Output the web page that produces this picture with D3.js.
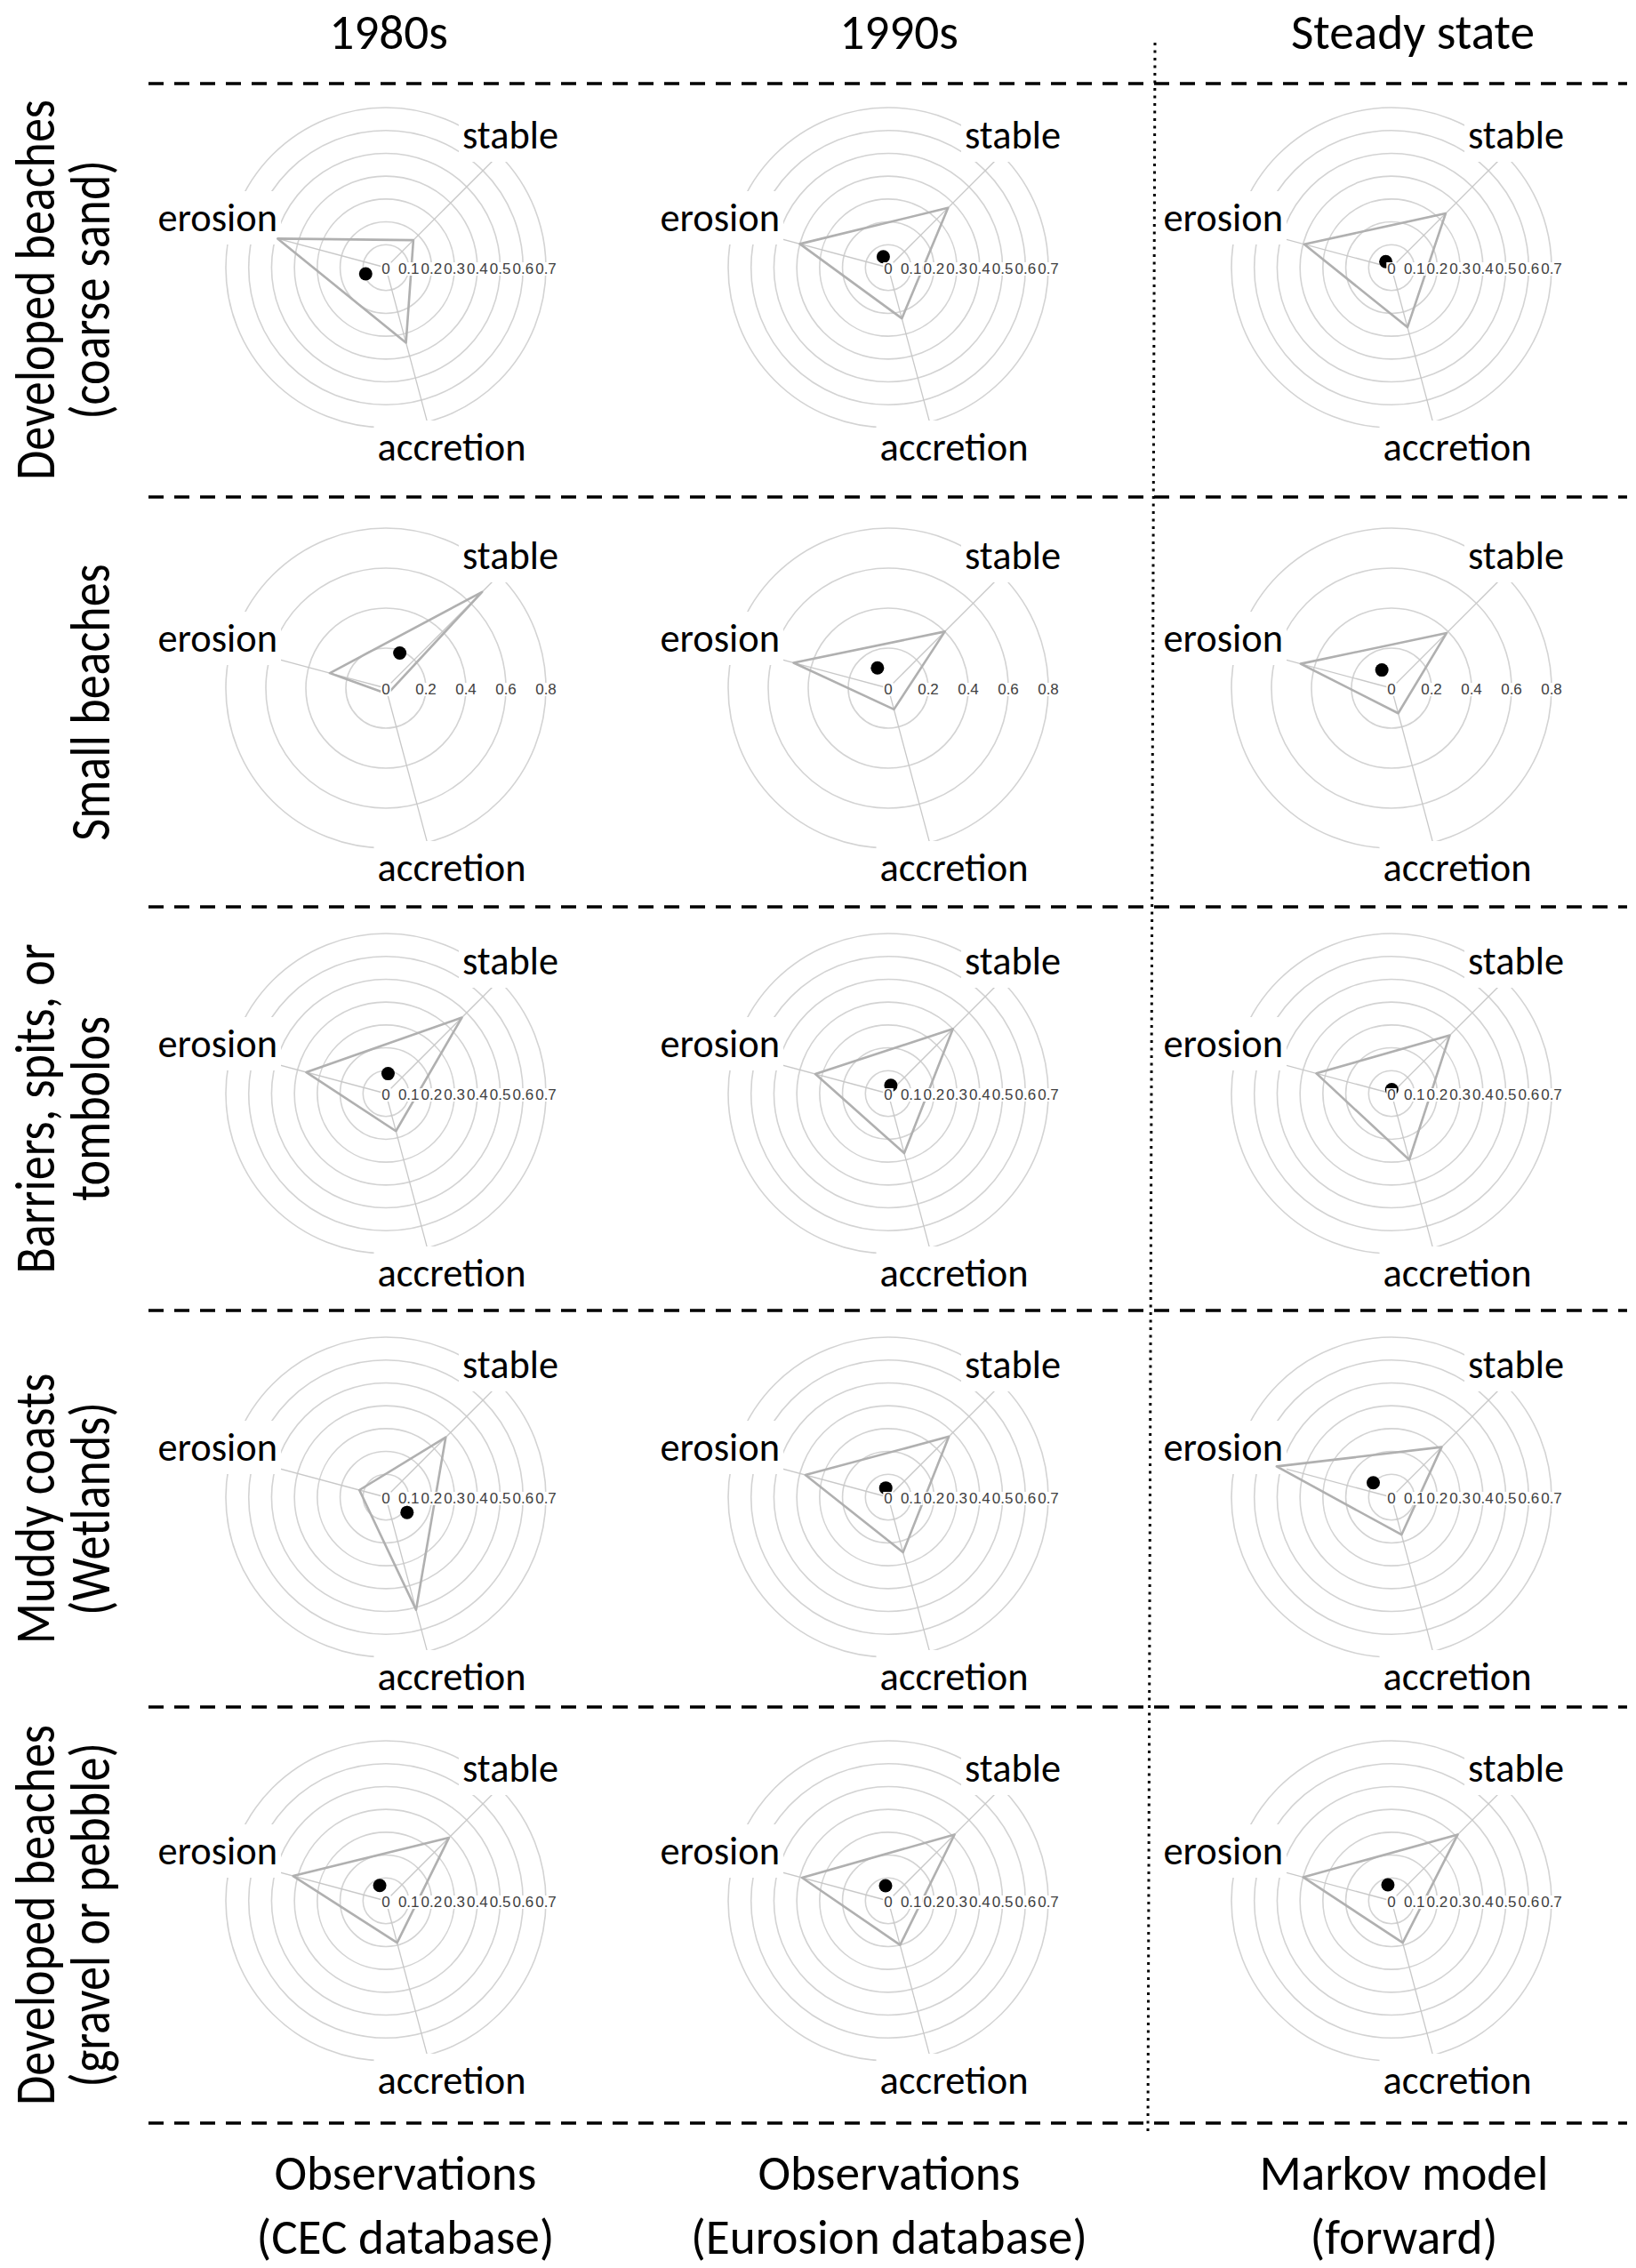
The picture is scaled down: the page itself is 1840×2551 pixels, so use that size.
<!DOCTYPE html>
<html>
<head>
<meta charset="utf-8">
<script src="https://cdn.jsdelivr.net/npm/d3@7"></script>
<style>
  body { margin: 0; background: #fff; }
</style>
</head>
<body>
<svg id="chart" width="1840" height="2551"></svg>
<script>
// radar axes, clockwise from the upper right
const categories = ["stable", "accretion", "erosion"];
const columnTitles = ["1980s", "1990s", "Steady state"];
const columnSources = [["Observations", "(CEC database)"], ["Observations", "(Eurosion database)"], ["Markov model", "(forward)"]];
const rowNames = [["Developed beaches", "(coarse sand)"], ["Small beaches"], ["Barriers, spits, or", "tombolos"],
                  ["Muddy coasts", "(Wetlands)"], ["Developed beaches", "(gravel or pebble)"]];

// share of [stable, accretion, erosion] for each coast type (rows)
const cec1980s      = [[0.17, 0.34, 0.49], [0.68, 0.03, 0.29], [0.47, 0.17, 0.36], [0.37, 0.51, 0.12], [0.39, 0.19, 0.42]];
const eurosion1990s = [[0.37, 0.23, 0.40], [0.40, 0.11, 0.49], [0.40, 0.27, 0.33], [0.375, 0.25, 0.375], [0.41, 0.20, 0.39]];
const markovSteady  = [[0.335, 0.27, 0.395], [0.39, 0.13, 0.47], [0.36, 0.30, 0.34], [0.31, 0.17, 0.52], [0.41, 0.19, 0.40]];
const columns = [cec1980s, eurosion1990s, markovSteady];

const ticksFine = [0, 0.1, 0.2, 0.3, 0.4, 0.5, 0.6, 0.7];
const ticksCoarse = [0, 0.2, 0.4, 0.6, 0.8];
const rowTicks = [ticksFine, ticksCoarse, ticksFine, ticksFine, ticksFine];

const svg = d3.select("#chart");
const textFont = "Carlito, Calibri, Lato, 'Open Sans', sans-serif";
const tickFont = "'Liberation Sans', Arial, sans-serif";

// layout
const rowY = [301, 774, 1230, 1684, 2138];
const colX = [434, 999, 1565];
const dashY = [94, 559, 1020, 1474, 1920, 2388];
const radius = 180;

function fitSize(sample, width) {
    var t = svg.append("text").style("font-family", textFont).style("font-size", "100px").text(sample);
    var w = t.node().getComputedTextLength();
    t.remove();
    return 100 * width / w;
}
const catSize = fitSize("accretion", 167);
const headSize = fitSize("Observations", 295);
const squeeze = 0.86;   // row names are set narrower than the font
const rowSize = fitSize("Developed beaches", 428) / squeeze;

const angle = d3.scalePoint().domain(categories).range([45, 285]);
function rad(c) { return angle(c) * Math.PI / 180; }

// where each category name sits relative to the centre
const labelPos = {
    "stable":    { dx: 86,   dy: -134, anchor: "start" },
    "accretion": { dx: 74,   dy: 217,  anchor: "middle" },
    "erosion":   { dx: -122, dy: -41,  anchor: "end" }
};

// separators
svg.selectAll(".hsep").data(dashY).enter().append("line")
    .attr("x1", 167).attr("x2", 1830)
    .attr("y1", d => d).attr("y2", d => d)
    .attr("stroke", "#000").attr("stroke-width", 3.5)
    .attr("stroke-dasharray", "17 12");
svg.append("line")
    .attr("x1", 1299).attr("y1", 48).attr("x2", 1291).attr("y2", 2402)
    .attr("stroke", "#000").attr("stroke-width", 3)
    .attr("stroke-dasharray", "3 5.5");

// column titles and sources
const headX = [437, 1011, 1589];
const srcX = [456, 1000, 1579];
svg.selectAll(".head").data(columnTitles).enter().append("text")
    .attr("x", (d, i) => headX[i]).attr("y", 55)
    .attr("text-anchor", "middle")
    .style("font-family", textFont).style("font-size", headSize + "px")
    .text(d => d);
columnSources.forEach(function(lines, i) {
    lines.forEach(function(s, j) {
        svg.append("text")
            .attr("x", srcX[i]).attr("y", 2463 + 72 * j)
            .attr("text-anchor", "middle")
            .style("font-family", textFont).style("font-size", headSize + "px")
            .text(s);
    });
});

// row names, rotated
const rowMid = [326, 790, 1247, 1697, 2154];
rowNames.forEach(function(lines, i) {
    var base = lines.length == 1 ? [123] : [61, 123];
    lines.forEach(function(s, j) {
        svg.append("text")
            .attr("transform", "translate(" + base[j] + "," + rowMid[i] + ") rotate(-90) scale(" + squeeze + ",1)")
            .attr("text-anchor", "middle")
            .style("font-family", textFont).style("font-size", rowSize + "px")
            .text(s);
    });
});

function drawRadar(g, values, ticks) {
    var r = d3.scaleLinear().domain([0, d3.max(ticks)]).range([0, radius]);
    var data = categories.map((c, i) => ({ key: c, value: values[i] }));

    g.selectAll(".ring").data(ticks.filter(t => t > 0)).enter().append("circle")
        .attr("r", d => r(d))
        .attr("fill", "none").attr("stroke", "#d3d3d3").attr("stroke-width", 1.6);

    g.selectAll(".axis").data(categories).enter().append("line")
        .attr("x1", 0).attr("y1", 0)
        .attr("x2", d => d3.pointRadial(rad(d), radius)[0])
        .attr("y2", d => d3.pointRadial(rad(d), radius)[1])
        .attr("stroke", "#c8c8c8").attr("stroke-width", 1.3);

    // category names on white boxes, which break the rings
    categories.forEach(function(c) {
        var p = labelPos[c];
        var t = g.append("text")
            .attr("x", p.dx).attr("y", p.dy)
            .attr("text-anchor", p.anchor)
            .style("font-family", textFont).style("font-size", catSize + "px")
            .text(c);
        var b = t.node().getBBox();
        g.insert("rect", function() { return t.node(); })
            .attr("x", b.x - 4).attr("y", b.y - 3)
            .attr("width", b.width + 8).attr("height", b.height + 6)
            .attr("fill", "#fff");
    });

    var radial = d3.lineRadial()
        .angle(d => rad(d.key))
        .radius(d => r(d.value))
        .curve(d3.curveLinearClosed);
    g.append("path")
        .attr("d", radial(data))
        .attr("fill", "none").attr("stroke", "#b0b0b0").attr("stroke-width", 2.6)
        .attr("stroke-linejoin", "round");

    var pts = data.map(d => d3.pointRadial(rad(d.key), r(d.value)));
    var c = d3.polygonCentroid(pts);
    g.append("circle")
        .attr("cx", c[0]).attr("cy", c[1]).attr("r", 7.5)
        .attr("fill", "#000");

    // radial tick labels along the horizontal
    var tl = g.append("g");
    var texts = ticks.map(function(t) {
        return tl.append("text")
            .attr("x", r(t)).attr("y", 7)
            .attr("text-anchor", "middle")
            .style("font-family", tickFont).style("font-size", "17px")
            .attr("fill", "#404040")
            .text(String(t));
    });
    texts.forEach(function(t) {
        var b = t.node().getBBox();
        tl.insert("rect", ":first-child")
            .attr("x", b.x - 1).attr("y", b.y + 2)
            .attr("width", b.width + 2).attr("height", b.height - 4)
            .attr("fill", "#fff");
    });
}

rowY.forEach(function(y, i) {
    colX.forEach(function(x, j) {
        var g = svg.append("g").attr("transform", "translate(" + x + "," + y + ")");
        drawRadar(g, columns[j][i], rowTicks[i]);
    });
});
</script>
</body>
</html>
